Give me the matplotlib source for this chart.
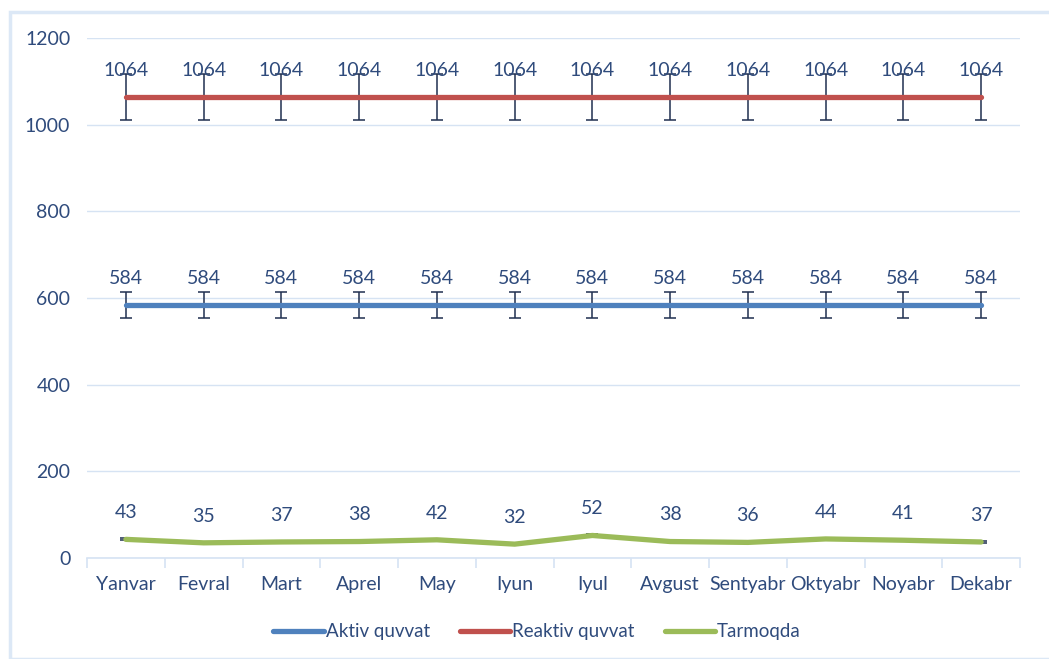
import numpy as np
import matplotlib.pyplot as plt
from matplotlib.patches import Rectangle

plt.rcParams['font.family'] = ['Lato', 'DejaVu Sans']

# Oylar
months = ['Yanvar', 'Fevral', 'Mart', 'Aprel', 'May', 'Iyun', 'Iyul',
          'Avgust', 'Sentyabr', 'Oktyabr', 'Noyabr', 'Dekabr']

# Qiymatlar
aktiv = [584] * 12
reaktiv = [1064] * 12
tarmoqda = [43, 35, 37, 38, 42, 32, 52, 38, 36, 44, 41, 37]

txt_color = '#2F4B7C'
grid_color = '#D6E3F3'
err_color = '#1F2F50'

fig = plt.figure(figsize=(10.49, 6.59), dpi=100)
fig.patches.append(Rectangle((10 / 1049, 0.0), 1.0, 1 - 12 / 659,
                             transform=fig.transFigure, fill=False,
                             edgecolor='#DCE8F6', linewidth=2.5))
ax = fig.add_axes([87 / 1049, 101 / 659, 933 / 1049, 520 / 659])

x = np.arange(len(months))

series = [
    (aktiv, '#4F81BD', 'Aktiv quvvat'),
    (reaktiv, '#C0504D', 'Reaktiv quvvat'),
    (tarmoqda, '#9BBB59', 'Tarmoqda'),
]

for vals, color, label in series:
    vals = np.array(vals)
    ax.errorbar(x, vals, yerr=vals * 0.05, fmt='none', ecolor=err_color,
                elinewidth=1.1, capsize=4, capthick=1.1, zorder=2)
    ax.plot(x, vals, color=color, linewidth=3.8, solid_capstyle='round',
            label=label, zorder=3)
    for xi, v in zip(x, vals):
        ax.annotate(str(v), (xi, v), xytext=(0, 13), textcoords='offset points',
                    ha='center', va='bottom', fontsize=14, color=txt_color,
                    zorder=5)

ax.set_xlim(-0.5, len(months) - 0.5)
ax.set_ylim(0, 1200)
ax.set_yticks(range(0, 1201, 200))
ax.set_xticks(x)
ax.set_xticklabels(months)
ax.set_xticks(np.arange(-0.5, len(months), 1), minor=True)

ax.grid(axis='y', color=grid_color, linewidth=1.0)
ax.set_axisbelow(True)
for s in ['top', 'right', 'left']:
    ax.spines[s].set_visible(False)
ax.spines['bottom'].set_color(grid_color)
ax.spines['bottom'].set_linewidth(1.2)

ax.tick_params(axis='x', which='major', length=0, pad=13, labelsize=14,
               labelcolor=txt_color)
ax.tick_params(axis='x', which='minor', length=7, color=grid_color, width=1.2)
ax.tick_params(axis='y', length=0, pad=12, labelsize=14, labelcolor=txt_color)

leg = fig.legend(loc='center', bbox_to_anchor=(537 / 1049, 1 - 632 / 659),
                 ncol=3, frameon=False, fontsize=13.5, handlelength=2.7,
                 handletextpad=0.1, columnspacing=1.6)
for t in leg.get_texts():
    t.set_color(txt_color)

fig.savefig('out.png', dpi=100)
